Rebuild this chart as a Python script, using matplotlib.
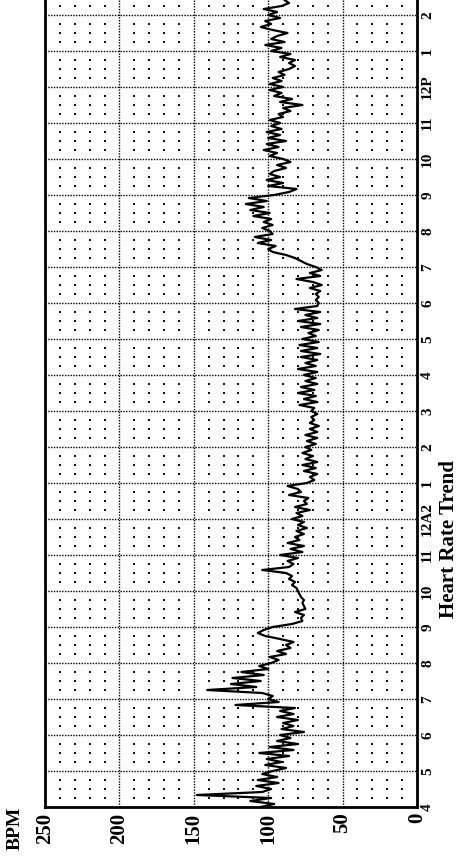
import numpy as np
import matplotlib
matplotlib.use("Agg")
import matplotlib.pyplot as plt

# ---------------- data ----------------
start_hour = 16.0          # 4 PM
step_minutes = 5
bpm = [
    # 4 PM
    105, 96, 112, 98, 148, 104, 98, 108, 93, 107, 94, 104,
    # 5 PM
    97, 88, 102, 91, 101, 86, 106, 83, 99, 80, 94, 85,
    # 6 PM
    92, 76, 91, 83, 90, 80, 94, 83, 92, 82, 122, 93,
    # 7 PM
    100, 97, 104, 141, 108, 125, 105, 124, 103, 118, 100, 106,
    # 8 PM
    98, 93, 99, 88, 94, 85, 88, 83, 92, 102, 107, 103,
    # 9 PM
    97, 84, 77, 78, 76, 82, 75, 76, 77, 76, 78, 79,
    # 10 PM
    80, 81, 84, 82, 86, 84, 88, 104, 86, 83, 87, 80,
    # 11 PM
    92, 77, 85, 76, 87, 79, 82, 76, 81, 74, 80, 76,
    # 12 AM
    84, 77, 81, 72, 82, 74, 76, 73, 86, 78, 80, 87,
    # 1 AM
    74, 69, 72, 67, 76, 68, 77, 67, 75, 70, 77, 71,
    # 2 AM
    75, 68, 74, 67, 75, 67, 72, 66, 72, 69, 71, 67,
    # 3 AM
    71, 69, 79, 67, 76, 68, 80, 69, 78, 67, 75, 68,
    # 4 AM
    76, 67, 80, 68, 75, 67, 78, 65, 78, 67, 79, 66,
    # 5 AM
    77, 68, 73, 66, 78, 65, 80, 67, 75, 65, 82, 67,
    # 6 AM
    66, 68, 66, 68, 65, 72, 64, 70, 81, 65, 72, 64,
    # 7 AM
    68, 74, 78, 82, 88, 97, 100, 95, 107, 98, 109, 97,
    # 8 AM
    99, 104, 97, 103, 98, 110, 99, 112, 103, 115, 101, 113,
    # 9 AM
    96, 86, 81, 100, 90, 101, 92, 99, 96, 88, 94, 85,
    # 10 AM
    90, 99, 94, 103, 93, 101, 88, 100, 92, 101, 91, 98,
    # 11 AM
    92, 99, 90, 93, 85, 90, 77, 92, 84, 96, 91, 99,
    # 12 PM
    90, 99, 91, 97, 89, 93, 86, 82, 86, 82, 92, 85,
    # 1 PM
    98, 91, 102, 89, 98, 94, 87, 97, 105, 98, 102, 92,
    # 2 PM
    100, 94, 103, 91, 86, 89,
]
hour_ticks = list(range(16, 39))
hour_labels = ["4", "5", "6", "7", "8", "9", "10", "11", "12A2", "1", "2", "3",
               "4", "5", "6", "7", "8", "9", "10", "11", "12P", "1", "2"]
bpm_ticks = [250, 200, 150, 100, 50, 0]
bpm_labels = ["250", "200", "150", "100", "50", "0"]

times = start_hour + np.arange(len(bpm)) * step_minutes / 60.0

# ---------------- figure ----------------
serif = ["Liberation Serif", "DejaVu Serif"]
fig = plt.figure(figsize=(4.60, 8.57), dpi=100)
ax = fig.add_axes([45 / 460, 50 / 857, (417 - 45) / 460, 807 / 857])

ax.set_xlim(250, 0)
ax.set_ylim(16, 16 + 807 / 36)

# major dotted grid
for b in [200, 150, 100, 50]:
    ax.axvline(b, color="black", lw=1.0, ls=(0, (1, 1.0)), zorder=1)
for h in hour_ticks[1:]:
    ax.axhline(h, color="black", lw=1.0, ls=(0, (1, 1.0)), zorder=1)

# minor dot grid
dx, dy = [], []
for b in range(10, 250, 10):
    if b % 50 == 0:
        continue
    for h in hour_ticks:
        for q in (0.25, 0.5, 0.75):
            dx.append(b)
            dy.append(h + q)
ax.scatter(dx, dy, s=2.0, color="#111111", marker="s", linewidths=0, zorder=1)

# trace
ax.plot(bpm, times, color="black", lw=1.6, zorder=3)

# spines
for side in ["left", "right", "bottom"]:
    ax.spines[side].set_linewidth(2.0)
    ax.spines[side].set_color("black")
ax.spines["top"].set_visible(False)

ax.set_xticks(bpm_ticks)
ax.set_xticklabels(bpm_labels, rotation=90, fontfamily=serif,
                   fontweight="bold", fontsize=15)
ax.tick_params(axis="x", length=0, pad=4)

ax.yaxis.tick_right()
ax.set_yticks(hour_ticks)
ax.set_yticklabels(hour_labels, rotation=90, fontfamily=serif,
                   fontweight="bold", fontsize=11, va="center")
ax.tick_params(axis="y", length=0, pad=3)

fig.text(449 / 460, (857 - 539) / 857, "Heart Rate Trend", rotation=90,
         ha="center", va="center", fontfamily=serif, fontweight="bold",
         fontsize=15)
fig.text(15 / 460, (857 - 828) / 857, "BPM", rotation=90,
         ha="center", va="center", fontfamily=serif, fontweight="bold",
         fontsize=14)

fig.savefig("out.png", dpi=100)
